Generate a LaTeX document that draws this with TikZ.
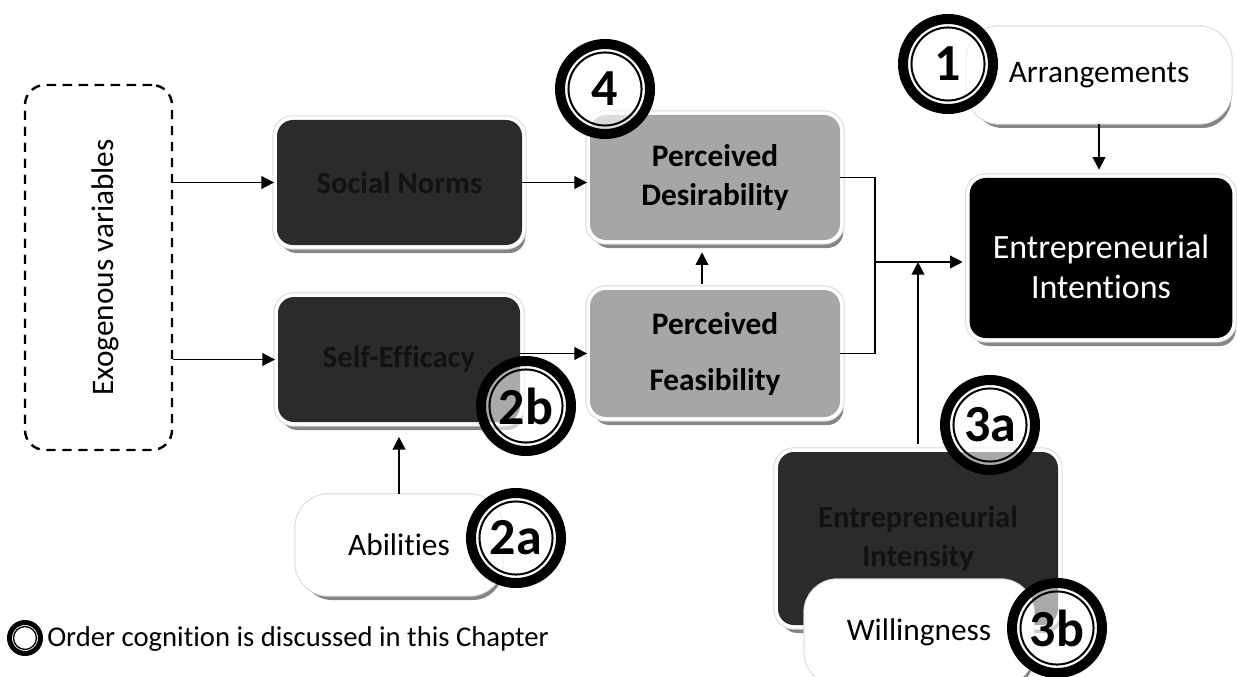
\documentclass[tikz,border=0pt]{standalone}
\usepackage{fontspec}
\usepackage{graphicx}
\setmainfont{Carlito}[Ligatures=NoCommon]
\usetikzlibrary{arrows.meta,shadows,calc}
\definecolor{darkfill}{HTML}{2B2B2B}
\definecolor{darkink}{HTML}{121212}
\definecolor{greyfill}{HTML}{A6A6A6}
\definecolor{shadowgrey}{HTML}{858585}
\begin{document}
\begin{tikzpicture}[x=0.75pt,y=-0.75pt,
  raised/.style={rounded corners=12pt, inner sep=2pt, align=center,
    drop shadow={shadow xshift=2.5pt, shadow yshift=-6pt, fill=shadowgrey, opacity=1},
    preaction={draw=gray!30, line width=7pt},
    preaction={draw=white, line width=5.5pt}},
  darkbox/.style={raised, fill=darkfill, text=darkink,
    font=\bfseries\fontsize{23}{29}\selectfont},
  greybox/.style={raised, fill=greyfill, text=black,
    font=\bfseries\fontsize{23.5}{29}\selectfont},
  blackbox/.style={raised, fill=black},
  blacktext/.style={align=center, text=white, inner sep=0pt,
    font=\fontsize{25.5}{30}\selectfont},
  whitebox/.style={raised, rounded corners=22pt, fill=white, text=black,
    font=\fontsize{23.5}{28}\selectfont},
  exobox/.style={draw, rounded corners=15pt, line width=1.8pt,
    dash pattern=on 7pt off 5pt, minimum width=110.25pt, minimum height=273.75pt,
    font=\fontsize{23.5}{28}\selectfont},
  ordmark/.style={circle, draw=black, line width=7.5pt, minimum size=67.5pt,
    inner sep=0pt, fill=white, fill opacity=0.6, text opacity=1,
    font=\bfseries\fontsize{39}{39}\selectfont,
    path picture={\draw[line width=1.5pt]
      (path picture bounding box.center) circle[radius=27.4pt];}},
  legmark/.style={circle, draw=black, line width=3.75pt, minimum size=23.25pt,
    inner sep=0pt, fill=white,
    path picture={\draw[line width=1pt]
      (path picture bounding box.center) circle[radius=8.6pt];}},
  conn/.style={line width=1.4pt, -{Triangle[length=9.5pt,width=9.5pt]}},
  plain/.style={line width=1.4pt}
]
\useasboundingbox (0,0) rectangle (1237,677);
\clip (0,0) rectangle (1237,677);

% exogenous block
\node[exobox] (exo) at (98.5,267.5) {\hspace*{9.75pt}\rotatebox{90}{Exogenous variables}};

% antecedents
\node[darkbox, minimum width=183.75pt, minimum height=93.75pt] (social) at (399.5,182.5) {Social Norms};
\node[darkbox, minimum width=181.5pt, minimum height=93.75pt] (self) at (399,359.5) {Self-Efficacy};

% perceptions
\node[greybox, minimum width=187.5pt, minimum height=93.75pt] (desir) at (715,177.5) {Perceived\\Desirability};
\node[greybox, minimum width=187.5pt, minimum height=95.25pt] (feas) at (715,353.5) {Perceived\\[13pt]Feasibility};

% outcome and moderators
\node[blackbox, minimum width=197pt, minimum height=120pt] (intent) at (1101,258) {};
\node[blacktext] (intenttext) at ([yshift=-6.75pt]intent.center) {Entrepreneurial\\Intentions};
\node[whitebox, minimum width=193.5pt, minimum height=67.5pt] (arr) at (1099,75) {Arrangements};
\node[whitebox, minimum width=150pt, minimum height=70.5pt] (abil) at (399,545) {Abilities};
\node[darkbox, minimum width=210pt, minimum height=129.75pt] (intens) at (918,538.5) {Entrepreneurial\\Intensity};
\node[whitebox, minimum width=166.5pt, minimum height=73.5pt] (will) at (919,632) {Willingness};

% connectors
\draw[conn, shorten >=2pt] (exo.east |- social.west) -- (social.west);
\draw[conn, shorten >=2pt] (exo.east |- self.west) -- (self.west);
\draw[conn, shorten >=2pt] (social.east) -- (social.east -| desir.west);
\draw[conn, shorten >=2pt] (self.east |- feas.west) -- (feas.west);
\draw[conn, shorten <=4pt, shorten >=9pt] ([xshift=-9.75pt]feas.north) -- ([xshift=-9.75pt]desir.south);
\coordinate (j) at (875,262);
\draw[plain] (desir.east) -| (j |- feas.east) -- (feas.east);
\draw[conn, shorten >=5pt] (j) -- (j -| intent.west);
\draw[conn, shorten <=6pt] (intens.north) -- (intens.north |- j);
\draw[conn, shorten <=3pt, shorten >=6pt] (arr.south) -- (arr.south |- intent.north);
\draw[conn, shorten <=3pt, shorten >=11pt] (abil.north) -- (abil.north |- self.south);

% order marks
\node[ordmark] (o4) at (605,89) {4};
\node[ordmark] (o1) at (948,64) {1};
\node[ordmark] (o2b) at (526,406) {2b};
\node[ordmark] (o2a) at (516,538) {2a};
\node[ordmark] (o3a) at (990,425) {3a};
\node[ordmark] (o3b) at (1057,628) {3b};

% legend
\node[legmark] (leg) at (25,638) {};
\node[anchor=west, inner sep=0pt, font=\fontsize{21.5}{26}\selectfont] (legtext) at (47,639) {Order cognition is discussed in this Chapter};
\end{tikzpicture}
\end{document}
